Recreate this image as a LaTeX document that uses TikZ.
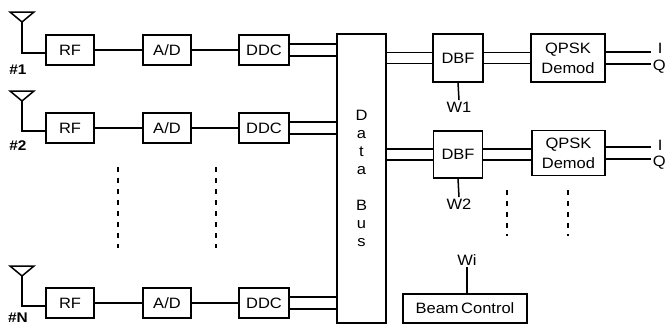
\documentclass[tikz,border=0pt]{standalone}
\usepackage{fontspec}
\setmainfont{Liberation Sans}[FakeStretch=1.1]
\usetikzlibrary{calc}
\begin{document}
\begin{tikzpicture}[x=1pt,y=-1pt,line width=1.5pt,
  blk/.style={draw,rectangle,inner sep=0pt,font=\fontsize{15}{20}\selectfont,align=center},
  lbl/.style={inner sep=1pt,font=\fontsize{15}{17}\selectfont},
  numlbl/.style={inner sep=1pt,font=\fontsize{14}{16}\selectfont\bfseries},
  dots/.style={line width=1.6pt,dash pattern=on 5pt off 6pt}]
\useasboundingbox (0,0) rectangle (666,327);
% left rows
\foreach \r/\y/\ay/\nm/\ly in {1/50/22/\#1/70, 2/128/101/\#2/146, 3/303/276/\#N/318}{
  \node[blk,minimum width=48,minimum height=30] (RF\r) at (70,\y) {RF};
  \node[blk,minimum width=48,minimum height=30] (AD\r) at (167,\y) {A/D};
  \node[blk,minimum width=50,minimum height=30] (DDC\r) at (264,\y) {DDC};
  \coordinate (ant\r) at (22,\ay);
  \node[numlbl] (num\r) at (18,\ly) {\nm};
  \draw (ant\r) -- ($(ant\r)+(-12,-10)$) -- ($(ant\r)+(12,-10)$) -- cycle;
  \draw (ant\r) |- ([yshift=-3pt]RF\r.west);
  \draw (RF\r) -- (AD\r);
  \draw (AD\r) -- (DDC\r);
}
% data bus
\node[blk,minimum width=49,minimum height=289,font=\fontsize{15}{18.1}\selectfont] (bus) at (361.5,178.5) {D\\a\\t\\a\\ \\B\\u\\s};
\foreach \r in {1,2,3}{
  \draw ([yshift=6pt]DDC\r.east) -- ([yshift=6pt]DDC\r.east -| bus.west);
  \draw ([yshift=-6pt]DDC\r.east) -- ([yshift=-6pt]DDC\r.east -| bus.west);
}
% right rows
\node[blk,minimum width=50,minimum height=48] (DBF1) at (458,58) {DBF};
\node[blk,minimum width=74,minimum height=48] (QP1) at (568,58) {QPSK\\Demod};
\node[blk,minimum width=49,minimum height=47] (DBF2) at (458,154.5) {DBF};
\node[blk,minimum width=73,minimum height=45] (QP2) at (568.5,153) {QPSK\\Demod};
\node[lbl,anchor=west] (I1) at (656,48) {I};
\node[lbl,anchor=west] (Q1) at (651,67) {Q};
\node[lbl,anchor=west] (I2) at (656,145) {I};
\node[lbl,anchor=west] (Q2) at (651,163) {Q};
\node[lbl] (W1) at (459,107) {W1};
\node[lbl] (W2) at (459,204) {W2};
\node[lbl] (Wi) at (467,260) {Wi};
\node[blk,minimum width=124,minimum height=29] (BC) at (465,308.5) {Beam\,Control};
\foreach \r/\o in {1/0,2/0}{
  \draw ([yshift=5.5pt]DBF\r.west -| bus.east) -- ([yshift=5.5pt]DBF\r.west);
  \draw ([yshift=-5.5pt]DBF\r.west -| bus.east) -- ([yshift=-5.5pt]DBF\r.west);
  \draw ([yshift=5.5pt]DBF\r.east) -- ([yshift=5.5pt]DBF\r.east -| QP\r.west);
  \draw ([yshift=-5.5pt]DBF\r.east) -- ([yshift=-5.5pt]DBF\r.east -| QP\r.west);
  \draw ([yshift=6pt]QP\r.east) -- ([yshift=6pt]QP\r.east -| Q\r.west);
  \draw ([yshift=-6pt]QP\r.east) -- ([yshift=-6pt]QP\r.east -| Q\r.west);
  \draw (DBF\r.south) -- (W\r.north);
}
\draw (Wi.south) -- (Wi.south |- BC.north);
% dotted continuation
\coordinate (d1a) at (118,167); \coordinate (d1b) at (118,248);
\coordinate (d2a) at (216,167); \coordinate (d2b) at (216,248);
\coordinate (d3a) at (507,190); \coordinate (d3b) at (507,236);
\coordinate (d4a) at (568,190); \coordinate (d4b) at (568,236);
\draw[dots] (d1a) -- (d1b);
\draw[dots] (d2a) -- (d2b);
\draw[dots] (d3a) -- (d3b);
\draw[dots] (d4a) -- (d4b);
\end{tikzpicture}
\end{document}
